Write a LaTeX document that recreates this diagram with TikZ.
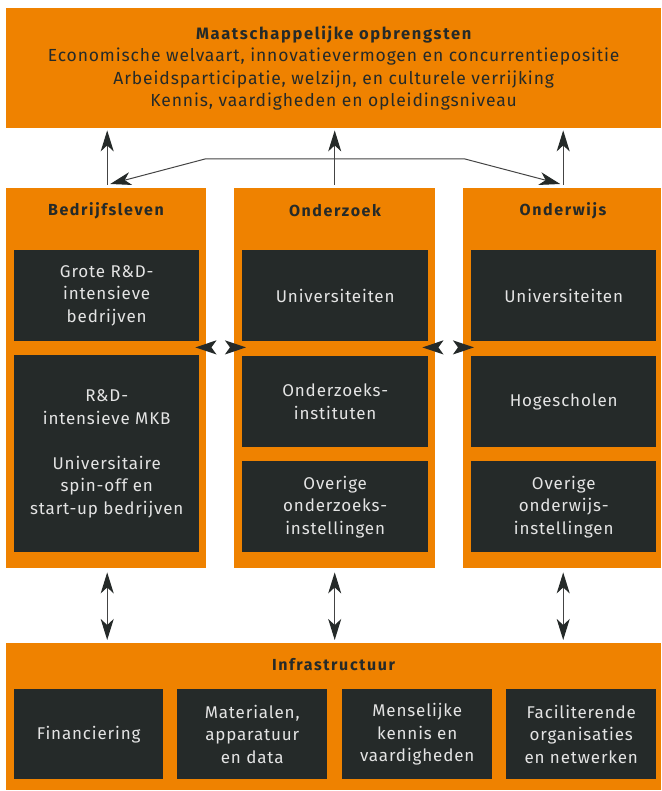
\documentclass[tikz,border=0pt]{standalone}
\usepackage{fontspec}
\setmainfont{Fira Sans}[LetterSpace=5]
\newfontfamily\titelfont{Fira Sans}[LetterSpace=10]
\usetikzlibrary{arrows.meta}
\definecolor{oranje}{HTML}{EF8200}
\definecolor{donker}{HTML}{252A29}
\definecolor{licht}{HTML}{E4E4E4}
\definecolor{lijn}{HTML}{444444}
\begin{document}
\begin{tikzpicture}[x=1pt,y=-1pt,
  panel/.style={fill=oranje,draw=none,inner sep=0pt,anchor=north west,text=donker,align=center},
  dbox/.style={fill=donker,draw=none,inner sep=0pt,anchor=north west,text=licht,align=center,
    font=\fontsize{17}{22.5}\selectfont},
  titel/.style={text=donker,inner sep=0pt,font=\fontsize{16}{18}\selectfont\titelfont\bfseries},
  tip/.tip={Stealth[length=21pt,width=13pt,inset=6pt,color=donker]},
  pijl/.style={-tip,draw=lijn,line width=1.2pt},
  dpijl/.style={tip-tip,draw=lijn,line width=1.2pt},
  mpijl/.style={{Stealth[length=21pt,width=14pt,inset=5pt,color=donker]}-{Stealth[length=21pt,width=14pt,inset=5pt,color=donker]},draw=white,line width=2pt}
]
\useasboundingbox (0,0) rectangle (661,791);

% top panel
\node[panel,minimum width=655pt,minimum height=120pt,font=\fontsize{17.5}{22.3}\selectfont] (top) at (6,8)
  {{\titelfont\bfseries\fontsize{16.5}{22.3}\selectfont Maatschappelijke opbrengsten}\\
   Economische welvaart, innovatievermogen en concurrentiepositie\\
   Arbeidsparticipatie, welzijn, en culturele verrijking\\
   Kennis, vaardigheden en opleidingsniveau};

% columns
\node[panel,minimum width=200pt,minimum height=380pt] (colA) at (6,188) {};
\node[panel,minimum width=201pt,minimum height=380pt] (colB) at (234,188) {};
\node[panel,minimum width=198pt,minimum height=380pt] (colC) at (463,188) {};

\node[titel] (tA) at (106,211) {Bedrijfsleven};
\node[titel] (tB) at (335,211) {Onderzoek};
\node[titel] (tC) at (563,211) {Onderwijs};

\node[dbox,minimum width=185pt,minimum height=91pt] (A1) at (14,250) {Grote R\&D-\\intensieve\\bedrijven};
\node[dbox,minimum width=185pt,minimum height=197pt] (A2) at (14,355) {R\&D-\\intensieve MKB\\[22.5pt]Universitaire\\spin-off en\\start-up bedrijven};

\node[dbox,minimum width=186pt,minimum height=91pt] (B1) at (242,250) {Universiteiten};
\node[dbox,minimum width=186pt,minimum height=91pt] (B2) at (242,356) {Onderzoeks-\\instituten};
\node[dbox,minimum width=186pt,minimum height=91pt] (B3) at (242,461) {Overige\\onderzoeks-\\instellingen};

\node[dbox,minimum width=185pt,minimum height=91pt] (C1) at (471,250) {Universiteiten};
\node[dbox,minimum width=185pt,minimum height=91pt] (C2) at (471,356) {Hogescholen};
\node[dbox,minimum width=185pt,minimum height=91pt] (C3) at (471,461) {Overige\\onderwijs-\\instellingen};

% infrastructure
\node[panel,minimum width=655pt,minimum height=147pt] (infra) at (6,643) {};
\node[titel] (tI) at (333.5,665) {Infrastructuur};
\node[dbox,minimum width=149pt,minimum height=90pt] (I1) at (14,689) {Financiering};
\node[dbox,minimum width=150pt,minimum height=90pt] (I2) at (177,689) {Materialen,\\apparatuur\\en data};
\node[dbox,minimum width=150pt,minimum height=90pt] (I3) at (342,689) {Menselijke\\kennis en\\vaardigheden};
\node[dbox,minimum width=150pt,minimum height=90pt] (I4) at (506,689) {Faciliterende\\organisaties\\en netwerken};

% arrows up to top panel
\draw[pijl] ([xshift=1pt,yshift=3pt]colA.north) -- ([xshift=1pt,yshift=-2pt]top.south -| colA.north);
\draw[pijl] ([yshift=3pt]colB.north) -- ([yshift=-2pt]top.south -| colB.north);
\draw[pijl] ([xshift=1pt,yshift=3pt]colC.north) -- ([xshift=1pt,yshift=-2pt]top.south -| colC.north);

% link between Bedrijfsleven and Onderwijs
\coordinate (k1) at (205,159);
\coordinate (k2) at (465,159);
\draw[dpijl,line width=1pt] ([xshift=4pt,yshift=4pt]colA.north) -- (k1) -- (k2) -- ([xshift=-2pt,yshift=4pt]colC.north);

% horizontal double arrows
\draw[mpijl] ([xshift=-11pt,yshift=-6pt]colA.east |- A1.south) -- ([xshift=12pt,yshift=-6pt]colB.west |- A1.south);
\draw[mpijl] ([xshift=-13pt,yshift=-6pt]colB.east |- B1.south) -- ([xshift=11pt,yshift=-6pt]colC.west |- B1.south);

% arrows to infrastructure
\draw[dpijl] ([xshift=1pt,yshift=-4pt]colA.south) -- ([xshift=1pt,yshift=3pt]infra.north -| colA.south);
\draw[dpijl] ([yshift=-4pt]colB.south) -- ([yshift=3pt]infra.north -| colB.south);
\draw[dpijl] ([xshift=1pt,yshift=-4pt]colC.south) -- ([xshift=1pt,yshift=3pt]infra.north -| colC.south);
\end{tikzpicture}
\end{document}
